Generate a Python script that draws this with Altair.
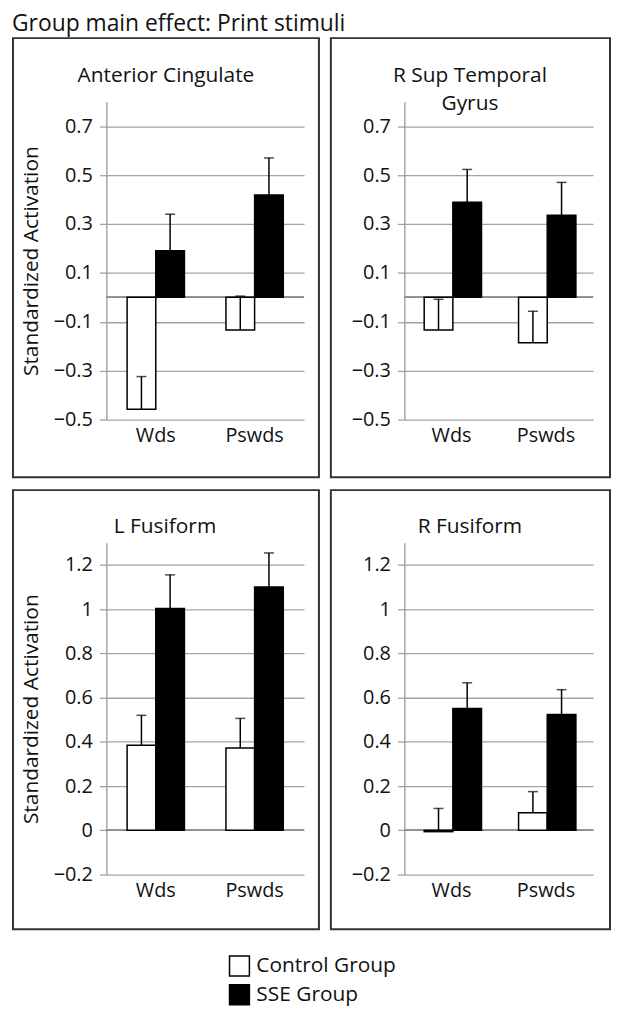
import altair as alt
import pandas as pd

# ---------------- data ----------------
categories = ["Wds", "Pswds"]
groups = ["Control Group", "SSE Group"]

ac_control = [-0.458, -0.134]
ac_control_err = [0.134, 0.139]
ac_sse = [0.19, 0.418]
ac_sse_err = [0.15, 0.152]

rstg_control = [-0.134, -0.186]
rstg_control_err = [0.126, 0.129]
rstg_sse = [0.389, 0.336]
rstg_sse_err = [0.134, 0.134]

lf_control = [0.385, 0.372]
lf_control_err = [0.135, 0.134]
lf_sse = [1.003, 1.10]
lf_sse_err = [0.152, 0.154]

rf_control = [-0.006, 0.08]
rf_control_err = [0.105, 0.095]
rf_sse = [0.551, 0.524]
rf_sse_err = [0.116, 0.112]

top_ticks = [-0.5, -0.3, -0.1, 0.1, 0.3, 0.5, 0.7]
bottom_ticks = [-0.2, 0, 0.2, 0.4, 0.6, 0.8, 1.0, 1.2]

FONT = "Open Sans"
FS_LABEL = 20
FS_TITLE = 21
FS_MAIN = 23
GRID = "#a3a3a3"
TXT = "#111111"


def make_df(control, control_err, sse, sse_err):
    rows = []
    for i, c in enumerate(categories):
        rows.append({"cat": c, "group": groups[0], "value": control[i],
                     "hi": control[i] + control_err[i]})
        rows.append({"cat": c, "group": groups[1], "value": sse[i],
                     "hi": sse[i] + sse_err[i]})
    return pd.DataFrame(rows)


legend = alt.Legend(
    title=None, orient="none", legendX=123, legendY=859,
    symbolType="square", symbolSize=400, symbolStrokeColor="black",
    symbolStrokeWidth=1.5, labelFontSize=FS_TITLE, labelFont=FONT,
    labelColor=TXT, labelOffset=6, rowPadding=3, padding=0,
    symbolOpacity=1,
)


def panel(df, title, w, h, domain, ticks, ytitle, frame, tpos):
    x = alt.X("cat:N", sort=categories,
              scale=alt.Scale(paddingInner=0.42, paddingOuter=0.21),
              axis=alt.Axis(title=None, domain=False, ticks=False, labelAngle=0,
                            labelFontSize=FS_LABEL, labelFont=FONT, labelColor=TXT,
                            labelPadding=6, grid=False))
    xo = alt.XOffset("group:N", sort=groups,
                     scale=alt.Scale(paddingInner=0, paddingOuter=0))
    yaxis = alt.Axis(values=ticks, format=".1~f", grid=True, gridColor=GRID,
                     gridWidth=1.3, domainColor="#999999", domainWidth=1.3,
                     tickColor=GRID, tickSize=7, tickWidth=1.3,
                     labelFontSize=FS_LABEL, labelFont=FONT, labelColor=TXT,
                     labelPadding=7, minExtent=57, maxExtent=57,
                     title=ytitle if ytitle else "", titleFontSize=FS_TITLE,
                     titleFont=FONT, titleFontWeight="normal",
                     titleColor=TXT, titlePadding=8)
    y = alt.Y("value:Q", scale=alt.Scale(domain=domain, nice=False, zero=False),
              axis=yaxis)
    base = alt.Chart(df)
    bars = base.mark_bar(stroke="black", strokeWidth=1.5).encode(
        x=x, xOffset=xo, y=y,
        fill=alt.Fill("group:N", sort=groups,
                      scale=alt.Scale(domain=groups, range=["white", "black"]),
                      legend=legend),
    )
    err = base.mark_rule(color="black", strokeWidth=1.5).encode(
        x=x, xOffset=xo, y="value:Q", y2="hi:Q")
    cap = base.mark_tick(orient="horizontal", size=10, thickness=1.5,
                         color="black").encode(x=x, xOffset=xo, y="hi:Q")
    zero = base.mark_rule(color="#8f8f8f", strokeWidth=1.5).encode(
        y=alt.datum(0))
    tdf = pd.DataFrame({"title": [title]})
    fx0, fx1, fy0, fy1 = frame
    box = alt.Chart(tdf).mark_rect(fillOpacity=0, stroke="#333333",
                                   strokeWidth=2).encode(
        x=alt.value(fx0), x2=alt.value(w + fx1),
        y=alt.value(fy0), y2=alt.value(h + fy1))
    ttl = alt.Chart(tdf).mark_text(align="center", baseline="alphabetic",
                                   fontSize=FS_TITLE, font=FONT, color=TXT,
                                   lineBreak="\n", lineHeight=28).encode(
        x=alt.value(tpos[0]), y=alt.value(tpos[1]), text="title:N")
    return alt.layer(zero, bars, err, cap, box, ttl).properties(width=w, height=h)


p1 = panel(make_df(ac_control, ac_control_err, ac_sse, ac_sse_err),
           "Anterior Cingulate", 199, 320, [-0.5, 0.8], top_ticks,
           "Standardized Activation", (-94, 15, -64, 58), (60, -20))
p2 = panel(make_df(rstg_control, rstg_control_err, rstg_sse, rstg_sse_err),
           "R Sup Temporal\nGyrus", 190, 320, [-0.5, 0.8], top_ticks,
           None, (-74, 17, -64, 58), (66, -20))
p3 = panel(make_df(lf_control, lf_control_err, lf_sse, lf_sse_err),
           "L Fusiform", 199, 334, [-0.2, 1.3], bottom_ticks,
           "Standardized Activation", (-94, 15, -53, 55), (59, -10))
p4 = panel(make_df(rf_control, rf_control_err, rf_sse, rf_sse_err),
           "R Fusiform", 190, 334, [-0.2, 1.3], bottom_ticks,
           None, (-74, 17, -53, 55), (66, -10))

chart = alt.vconcat(
    alt.hconcat(p1, p2, spacing=10),
    alt.hconcat(p3, p4, spacing=10),
    spacing=11,
).properties(
    title=alt.TitleParams("Group main effect: Print stimuli", anchor="start",
                          fontSize=FS_MAIN, font=FONT, fontWeight="normal",
                          color=TXT, baseline="alphabetic", offset=-17),
    padding={"left": 4, "top": 2, "right": 0, "bottom": 0},
).configure_view(stroke=None)

chart.save("out.html", embed_options={"renderer": "svg", "actions": False})
